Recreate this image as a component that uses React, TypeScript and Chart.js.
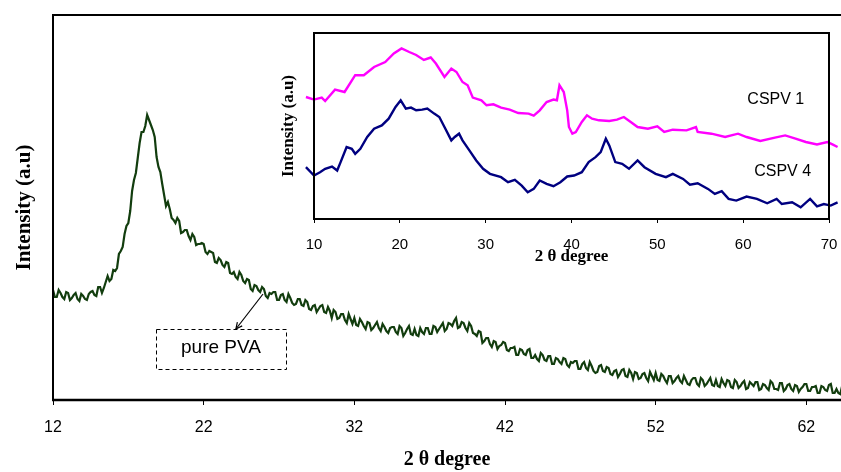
import React, { useEffect, useRef } from 'react';
import { Chart, registerables } from 'chart.js';

Chart.register(...registerables);

const SANS = '"Liberation Sans", Arial, sans-serif';
const SERIF = '"Liberation Serif", "Times New Roman", serif';

// ---------- Main chart: pure PVA (2θ from 12, step 0.125) ----------
const pvaStart = 12;
const pvaStep = 0.125;
const pvaIntensity = [
  110, 103, 103, 110, 107, 103, 101, 108, 107, 100,
  102, 105, 107, 101, 99, 106, 104, 101, 100, 106,
  108, 109, 105, 104, 113, 113, 107, 112, 118, 124,
  119, 121, 130, 129, 132, 146, 149, 153, 166, 174,
  177, 189, 209, 220, 227, 242, 257, 268, 268, 274,
  285, 280, 275, 270, 263, 243, 233, 228, 216, 205,
  194, 198, 191, 182, 180, 177, 182, 179, 167, 168,
  170, 170, 164, 160, 166, 163, 155, 156, 156, 157,
  156, 148, 146, 149, 148, 147, 138, 137, 142, 140,
  135, 133, 138, 137, 127, 126, 128, 123, 121, 128,
  125, 119, 117, 121, 120, 111, 109, 115, 114, 110,
  108, 113, 111, 104, 102, 107, 106, 108, 108, 100,
  100, 105, 106, 100, 98, 106, 102, 97, 95, 96,
  101, 101, 95, 94, 100, 98, 91, 90, 94, 95,
  88, 91, 94, 95, 88, 87, 93, 89, 82, 90,
  88, 81, 82, 86, 86, 80, 77, 86, 81, 76,
  82, 75, 74, 81, 78, 74, 71, 78, 77, 70,
  72, 75, 78, 72, 69, 76, 73, 69, 67, 72,
  73, 73, 68, 66, 74, 72, 64, 67, 71, 74,
  66, 65, 71, 65, 64, 72, 68, 66, 72, 72,
  66, 66, 74, 73, 68, 71, 74, 77, 69, 71,
  77, 76, 74, 79, 82, 72, 73, 78, 77, 72,
  69, 77, 74, 67, 66, 64, 69, 68, 57, 59,
  62, 62, 56, 53, 59, 58, 51, 54, 55, 58,
  57, 50, 49, 52, 52, 53, 45, 45, 51, 50,
  46, 45, 50, 51, 42, 42, 45, 41, 39, 47,
  45, 40, 39, 44, 44, 36, 36, 42, 41, 38,
  36, 42, 41, 35, 33, 38, 37, 39, 39, 31,
  31, 36, 38, 32, 30, 38, 34, 29, 27, 28,
  34, 35, 29, 28, 33, 32, 26, 25, 29, 30,
  23, 26, 30, 31, 24, 23, 30, 27, 21, 28,
  27, 21, 22, 26, 27, 22, 19, 28, 24, 20,
  27, 20, 19, 26, 24, 20, 17, 24, 24, 17,
  19, 22, 24, 19, 17, 24, 20, 16, 15, 20,
  22, 22, 16, 14, 22, 20, 14, 16, 19, 22,
  15, 14, 20, 14, 13, 21, 17, 14, 20, 19,
  13, 12, 20, 18, 12, 14, 17, 19, 11, 12,
  18, 16, 14, 18, 18, 10, 11, 16, 15, 12,
  10, 19, 17, 11, 11, 10, 17, 17, 9, 11,
  15, 16, 11, 9, 15, 14, 8, 11, 13, 16,
  16, 9, 9, 13, 13, 14, 7, 7, 14, 13,
  10, 9, 15, 16, 7, 7, 11, 7, 6, 14,
  13,
];
const mainTicks = [12, 22, 32, 42, 52, 62];

// ---------- Inset: CSPV 1 and CSPV 4 ----------
const cspv1X = [
  9.06, 10, 10.9, 11.3, 12.45, 13.56, 14.8, 15.8, 17.0, 18.3,
  19.3, 20.2, 21.1, 21.9, 22.8, 23.6, 24.2, 25.2, 26.0, 26.6,
  27.3, 27.9, 28.5, 29.5, 30.1, 30.9, 31.8, 32.8, 33.8, 35.0,
  35.6, 36.3, 37.1, 37.9, 38.3, 38.6, 39.1, 39.5, 39.7, 40.1,
  40.5, 41.2, 41.8, 42.4, 43.2, 44.4, 45.3, 46.1, 46.9, 47.7,
  48.9, 50.0, 50.8, 51.8, 53.4, 54.5, 54.7, 56.3, 57.9, 59.4,
  60.4, 62.0, 63.7, 64.9, 66.1, 67.3, 68.6, 69.8, 70.4, 71.0,
];
const cspv1Y = [
  122, 119.4, 121.4, 118, 129.4, 127, 143.8, 143.8, 152, 157,
  165.5, 170.6, 167, 164, 159, 161.5, 155.5, 142, 150.5, 147,
  137, 133.8, 121.4, 118.7, 113.7, 114.7, 111.4, 109.4, 106, 105.4,
  103.3, 108.7, 117, 119.4, 118.7, 133.8, 127, 108.7, 92, 85.3,
  87, 97, 103.7, 100.3, 98.7, 98, 99.3, 102, 97, 92,
  90.3, 92.6, 87, 89.3, 88.6, 92, 87, 85.3, 82, 85.3,
  82, 78, 81.3, 83.6, 80.3, 77, 74.6, 77, 74.6, 72,
];
const cspv4X = [
  9.06, 10, 10.7, 11.3, 12.1, 12.7, 13.1, 13.8, 14.4, 14.8,
  15.4, 16.2, 17.0, 17.9, 18.7, 19.5, 20.1, 20.7, 21.3, 21.9,
  22.6, 23.2, 24.0, 24.6, 25.2, 26.0, 26.4, 26.9, 27.3, 28.1,
  28.9, 29.7, 30.5, 31.8, 32.6, 33.4, 34.2, 34.9, 35.6, 36.3,
  37.1, 37.9, 38.7, 39.5, 40.3, 41.2, 42.0, 42.8, 43.4, 44.0,
  44.4, 45.1, 45.9, 46.7, 47.7, 48.5, 49.8, 51.0, 51.8, 53.0,
  53.8, 54.7, 55.9, 56.7, 57.5, 58.3, 59.2, 60.4, 61.6, 62.8,
  63.9, 64.5, 65.7, 66.7, 67.8, 68.6, 69.4, 70.2, 71.0,
];
const cspv4Y = [
  51.8, 43.5, 46.8, 50.2, 52.5, 48.5, 56.9, 71.9, 70.2, 65.2,
  70.2, 82, 90.3, 93.6, 100.3, 112, 118.7, 110.4, 111.4, 108.7,
  109.4, 110.4, 105.4, 102, 92, 78.6, 82, 85.3, 78.6, 68.6,
  58.5, 50.2, 45.2, 41.8, 36.8, 39.1, 33.4, 26.8, 30.1, 38.5,
  35.1, 32.8, 36.8, 42.5, 43.5, 46.8, 56.9, 61.9, 66.9, 80.3,
  73.6, 56.9, 55.2, 50.2, 58.5, 51.8, 45.2, 41.8, 45.2, 40.1,
  34.4, 35.8, 30.1, 25.1, 27.8, 20.1, 18.4, 22.4, 20.1, 15.7,
  20.1, 15, 16.7, 11.7, 20.1, 12.7, 15, 13.4, 16.7,
];
const insetTicks = [10, 20, 30, 40, 50, 60, 70];
const seriesNames = ['CSPV 1', 'CSPV 4'];

// annotation placement (data coordinates of the main chart)
const pvaLabel = { text: 'pure PVA', x0: 18.83, x1: 27.46, y0: 71, y1: 31, tx: 23.15, ty: 52 };
const pvaArrow = { x0: 25.94, y0: 106, x1: 24.14, y1: 71 };
// series label placement (data coordinates of the inset)
const insetLabelPos = [
  { x: 63.8, y: 119 },
  { x: 64.6, y: 47.5 },
];

const mainFrame = {
  id: 'mainFrame',
  afterDatasetsDraw(chart: any) {
    const { ctx, chartArea: a, scales } = chart;
    const xs = scales.x;
    const ys = scales.y;
    ctx.save();
    ctx.strokeStyle = '#000';
    ctx.lineWidth = 2;
    ctx.beginPath();
    ctx.moveTo(a.right + 2, a.top);
    ctx.lineTo(a.left, a.top);
    ctx.lineTo(a.left, a.bottom);
    ctx.stroke();
    ctx.lineWidth = 2.5;
    ctx.beginPath();
    ctx.moveTo(a.left - 1, a.bottom);
    ctx.lineTo(a.right + 2, a.bottom);
    ctx.stroke();

    // dashed label box
    const bx0 = xs.getPixelForValue(pvaLabel.x0);
    const bx1 = xs.getPixelForValue(pvaLabel.x1);
    const by0 = ys.getPixelForValue(pvaLabel.y0);
    const by1 = ys.getPixelForValue(pvaLabel.y1);
    ctx.lineWidth = 1;
    ctx.setLineDash([4, 3]);
    ctx.strokeRect(Math.round(bx0) + 0.5, Math.round(by0) + 0.5, Math.round(bx1 - bx0), Math.round(by1 - by0));
    ctx.setLineDash([]);
    ctx.fillStyle = '#000';
    ctx.font = `19px ${SANS}`;
    ctx.textAlign = 'center';
    ctx.textBaseline = 'middle';
    ctx.fillText(pvaLabel.text, xs.getPixelForValue(pvaLabel.tx), ys.getPixelForValue(pvaLabel.ty));

    // arrow
    const ax0 = xs.getPixelForValue(pvaArrow.x0);
    const ay0 = ys.getPixelForValue(pvaArrow.y0);
    const ax1 = xs.getPixelForValue(pvaArrow.x1);
    const ay1 = ys.getPixelForValue(pvaArrow.y1);
    ctx.lineWidth = 1.2;
    ctx.beginPath();
    ctx.moveTo(ax0, ay0);
    ctx.lineTo(ax1, ay1);
    ctx.stroke();
    const ang = Math.atan2(ay1 - ay0, ax1 - ax0);
    const L = 7;
    ctx.beginPath();
    ctx.moveTo(ax1 - L * Math.cos(ang - 0.45), ay1 - L * Math.sin(ang - 0.45));
    ctx.lineTo(ax1, ay1);
    ctx.lineTo(ax1 - L * Math.cos(ang + 0.45), ay1 - L * Math.sin(ang + 0.45));
    ctx.stroke();
    ctx.restore();
  },
};

const insetFrame = {
  id: 'insetFrame',
  afterDatasetsDraw(chart: any) {
    const { ctx, chartArea: a, scales } = chart;
    ctx.save();
    ctx.strokeStyle = '#000';
    ctx.lineWidth = 2;
    ctx.strokeRect(a.left, a.top, a.right - a.left, a.bottom - a.top);
    ctx.fillStyle = '#000';
    ctx.font = `16px ${SANS}`;
    ctx.textAlign = 'center';
    ctx.textBaseline = 'middle';
    seriesNames.forEach((n, i) => {
      ctx.fillText(n, scales.x.getPixelForValue(insetLabelPos[i].x), scales.y.getPixelForValue(insetLabelPos[i].y));
    });
    ctx.restore();
  },
};

export default function App() {
  const mainRef = useRef<HTMLCanvasElement | null>(null);
  const insetRef = useRef<HTMLCanvasElement | null>(null);

  useEffect(() => {
    if (!mainRef.current || !insetRef.current) return;
    const pvaPoints = pvaIntensity.map((v, i) => ({ x: pvaStart + i * pvaStep, y: v }));

    const main = new Chart(mainRef.current, {
      type: 'line',
      data: {
        datasets: [
          {
            label: 'pure PVA',
            data: pvaPoints,
            borderColor: '#123d0e',
            borderWidth: 2.2,
            pointRadius: 0,
            tension: 0,
            fill: false,
          },
        ],
      },
      options: {
        animation: false,
        responsive: false,
        events: [],
        layout: { padding: { top: 15, right: 0, bottom: 0, left: 0 } },
        plugins: { legend: { display: false }, tooltip: { enabled: false } },
        scales: {
          x: {
            type: 'linear',
            position: 'bottom',
            bounds: 'data',
            afterDataLimits: (s: any) => { s.min = 12; s.max = 64.3; },
            afterBuildTicks: (s: any) => { s.ticks = mainTicks.map((v) => ({ value: v })); },
            afterFit: (s: any) => { s.height = 72; s.paddingLeft = 0; s.paddingRight = 0; },
            grid: { display: true, drawOnChartArea: false, drawTicks: true, tickLength: 5, color: '#000', lineWidth: 1 },
            border: { display: false },
            ticks: { color: '#000', font: { family: SANS, size: 16 }, padding: 13, maxRotation: 0, autoSkip: false },
            title: { display: true, text: '2 θ degree', color: '#000', font: { family: SERIF, size: 20, weight: 'bold' }, padding: { top: 0, bottom: 0 } },
          },
          y: {
            type: 'linear',
            min: 0,
            max: 385,
            afterFit: (s: any) => { s.width = 53; },
            grid: { display: false },
            border: { display: false },
            ticks: { display: false },
            title: { display: true, text: 'Intensity (a.u)', color: '#000', font: { family: SERIF, size: 21, weight: 'bold' }, padding: { top: 12, bottom: 0 } },
          },
        },
      } as any,
      plugins: [mainFrame],
    });

    const inset = new Chart(insetRef.current, {
      type: 'line',
      data: {
        datasets: [
          {
            label: seriesNames[0],
            data: cspv1X.map((x, i) => ({ x, y: cspv1Y[i] })),
            borderColor: '#ff00ff',
            borderWidth: 2.4,
            pointRadius: 0,
            tension: 0,
            clip: false,
          },
          {
            label: seriesNames[1],
            data: cspv4X.map((x, i) => ({ x, y: cspv4Y[i] })),
            borderColor: '#000080',
            borderWidth: 2.4,
            pointRadius: 0,
            tension: 0,
            clip: false,
          },
        ],
      },
      options: {
        animation: false,
        responsive: false,
        events: [],
        layout: { padding: { top: 8, right: 12, bottom: 0, left: 0 } },
        plugins: { legend: { display: false }, tooltip: { enabled: false } },
        scales: {
          x: {
            type: 'linear',
            position: 'bottom',
            bounds: 'data',
            afterDataLimits: (s: any) => { s.min = 10; s.max = 70; },
            afterBuildTicks: (s: any) => { s.ticks = insetTicks.map((v) => ({ value: v })); },
            afterFit: (s: any) => { s.height = 48; s.paddingLeft = 0; s.paddingRight = 0; },
            grid: { display: true, drawOnChartArea: false, drawTicks: true, tickLength: 4, color: '#000', lineWidth: 1 },
            border: { display: false },
            ticks: { color: '#000', font: { family: SANS, size: 15 }, padding: 13, maxRotation: 0, autoSkip: false },
            title: { display: true, text: '2 θ degree', color: '#000', font: { family: SERIF, size: 17, weight: 'bold' }, padding: { top: 0, bottom: 0 } },
          },
          y: {
            type: 'linear',
            min: 0,
            max: 186,
            afterFit: (s: any) => { s.width = 44; },
            grid: { display: false },
            border: { display: false },
            ticks: { display: false },
            title: { display: true, text: 'Intensity (a.u)', color: '#000', font: { family: SERIF, size: 17, weight: 'bold' }, padding: { top: 8, bottom: 0 } },
          },
        },
      } as any,
      plugins: [insetFrame],
    });

    return () => {
      main.destroy();
      inset.destroy();
    };
  }, []);

  return (
    <div style={{ position: 'absolute', left: 0, top: 0, width: 841, height: 472, background: '#fff', overflow: 'hidden' }}>
      <canvas ref={mainRef} width={841} height={472} style={{ position: 'absolute', left: 0, top: 0, width: 841, height: 472 }} />
      <canvas ref={insetRef} width={571} height={242} style={{ position: 'absolute', left: 270, top: 25, width: 571, height: 242 }} />
    </div>
  );
}
